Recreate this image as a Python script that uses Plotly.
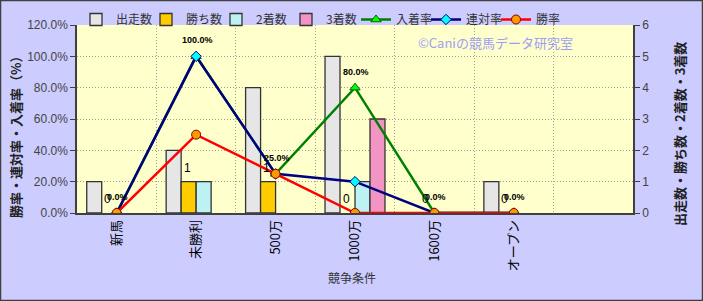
import plotly.graph_objects as go

categories = ["新馬", "未勝利", "500万", "1000万", "1600万", "オープン"]
starts = [1, 2, 4, 5, 0, 1]
wins = [0, 1, 1, 0, 0, 0]
seconds = [0, 1, 0, 1, 0, 0]
thirds = [0, 0, 0, 3, 0, 0]
place_rate = [0.0, 1.0, 0.25, 0.8, 0.0, 0.0]
quinella_rate = [0.0, 1.0, 0.25, 0.2, 0.0, 0.0]
win_rate = [0.0, 0.5, 0.25, 0.0, 0.0, 0.0]

W, H = 703, 301
L, R, T, B = 77, 70, 25, 88
PW = W - L - R
PH = H - T - B
ncat = 7
bargap = 0.245
catw = PW / ncat
barw = catw * (1 - bargap) / 4

FONT = "Liberation Sans, Arial, Noto Sans CJK JP, sans-serif"
JFONT = "Noto Sans CJK JP, Liberation Sans, sans-serif"
edge = dict(color="#333333", width=1.3)


def nz(vals):
    return [v if v != 0 else None for v in vals]


def px_x(px):
    return (px - L) / PW


def px_y(py):
    return 1 - (py - T) / PH


fig = go.Figure()
fig.add_trace(go.Bar(name="出走数", x=categories, y=nz(starts), marker=dict(color="#E6E6E6", line=edge), yaxis="y"))
fig.add_trace(go.Bar(name="勝ち数", x=categories, y=nz(wins), marker=dict(color="#FFCC00", line=edge), yaxis="y"))
fig.add_trace(go.Bar(name="2着数", x=categories, y=nz(seconds), marker=dict(color="#BDF2F2", line=edge), yaxis="y"))
fig.add_trace(go.Bar(name="3着数", x=categories, y=nz(thirds), marker=dict(color="#F395C4", line=edge), yaxis="y"))

fig.add_trace(go.Scatter(name="入着率", x=categories, y=place_rate, yaxis="y2", mode="lines+markers",
                         line=dict(color="#008000", width=2.5),
                         marker=dict(symbol="triangle-up", size=9, color="#00FF00", line=dict(color="#006000", width=1))))
fig.add_trace(go.Scatter(name="連対率", x=categories, y=quinella_rate, yaxis="y2", mode="lines+markers",
                         line=dict(color="#000080", width=2.5),
                         marker=dict(symbol="diamond", size=8, color="#00FFFF", line=dict(color="#000080", width=1))))
fig.add_trace(go.Scatter(name="勝率", x=categories, y=win_rate, yaxis="y2", mode="lines+markers",
                         line=dict(color="#FF0000", width=2.5),
                         marker=dict(symbol="circle", size=9, color="#FF9900", line=dict(color="#800000", width=1))))

annotations = []
for c, v in zip(categories, place_rate):
    annotations.append(dict(x=c, y=v, xref="x", yref="y2", text=f"{v*100:.1f}%", showarrow=False,
                            yshift=16, xshift=1, font=dict(family=FONT, size=9, color="#000000", weight="bold")))
for c, v in zip(categories, wins):
    annotations.append(dict(x=c, y=v, xref="x", yref="y", text=str(v), showarrow=False,
                            yshift=14, xshift=-barw * 0.6, font=dict(family=FONT, size=12, color="#000000")))
annotations.append(dict(x=px_x(495), y=px_y(43), xref="paper", yref="paper",
                        xanchor="center", yanchor="middle",
                        text="©Caniの競馬データ研究室", showarrow=False,
                        font=dict(family=JFONT, size=13, color="#9E9EF5")))
annotations.append(dict(x=px_x(352), y=px_y(277), xref="paper", yref="paper", text="競争条件",
                        xanchor="center", yanchor="middle",
                        showarrow=False, font=dict(family=JFONT, size=12, color="#333333")))
annotations.append(dict(x=px_x(15), y=px_y(134), xref="paper", yref="paper", text="勝率・連対率・入着率（%）",
                        xanchor="center", yanchor="middle", textangle=-90, showarrow=False,
                        font=dict(family=JFONT, size=13, color="#222222", weight="bold")))
annotations.append(dict(x=px_x(679), y=px_y(134), xref="paper", yref="paper", text="出走数・勝ち数・2着数・3着数",
                        xanchor="center", yanchor="middle", textangle=-90, showarrow=False,
                        font=dict(family=JFONT, size=13, color="#222222", weight="bold")))

fig.update_layout(
    width=W, height=H,
    margin=dict(l=L, r=R, t=T, b=B, autoexpand=False),
    paper_bgcolor="#CCCCFF", plot_bgcolor="#FFFFCC",
    barmode="group", bargap=bargap, bargroupgap=0,
    font=dict(family=FONT, size=12, color="#333333"),
    showlegend=True,
    legend=dict(orientation="h", x=px_x(76), y=px_y(5), xanchor="left", yanchor="top",
                bgcolor="rgba(0,0,0,0)", font=dict(family=JFONT, size=12, color="#333333"),
                itemwidth=30, tracegroupgap=0, entrywidth=25, entrywidthmode="pixels"),
    xaxis=dict(type="category", categoryorder="array", categoryarray=categories,
               range=[-0.5, ncat - 0.5], tickson="boundaries", tickangle=-90,
               showgrid=True, gridcolor="#A0A0A0", griddash="1px,2px", gridwidth=1,
               showline=True, linecolor="#404040", linewidth=1.5,
               ticks="", tickfont=dict(family=JFONT, size=13, color="#000000")),
    yaxis=dict(side="right", range=[0, 6], dtick=1, showgrid=True, gridcolor="#A0A0A0", griddash="1px,2px",
               showline=True, linecolor="#404040", linewidth=1.5, ticks="outside", ticklen=5,
               tickcolor="#404040", zeroline=False,
               tickfont=dict(family=FONT, size=12, color="#444444")),
    yaxis2=dict(side="left", overlaying="y", range=[0, 1.2], dtick=0.2, tickformat=".1%",
                showgrid=False, showline=True, linecolor="#404040", linewidth=1.5, ticks="outside", ticklen=5,
                tickcolor="#404040", zeroline=False,
                tickfont=dict(family=FONT, size=12, color="#444444")),
    annotations=annotations,
    shapes=[dict(type="rect", xref="paper", yref="paper",
                 x0=-L / PW + 0.5 / PW, x1=1 + R / PW - 0.5 / PW,
                 y0=-B / PH + 0.5 / PH, y1=1 + T / PH - 0.5 / PH,
                 line=dict(color="#404040", width=1.5), layer="above")],
)

fig.write_html("out.html")
